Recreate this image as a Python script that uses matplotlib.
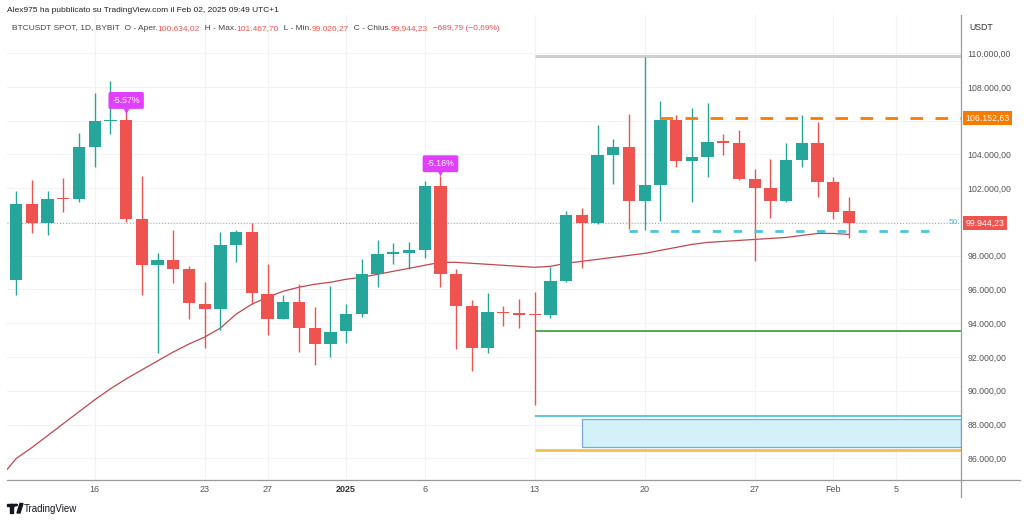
import matplotlib
matplotlib.use('Agg')
import numpy as np
import pandas as pd
import matplotlib.pyplot as plt
import matplotlib.dates as mdates
import matplotlib.transforms as mtrans
from matplotlib.lines import Line2D
from matplotlib.patches import Rectangle, Polygon, Circle

plt.rcParams['font.family'] = ['Liberation Sans', 'DejaVu Sans']

# daily candles BTCUSDT, 11 Dec 2024 -> 2 Feb 2025
dates = pd.date_range('2024-12-11', '2025-02-02', freq='D')
opens = [96548, 101091, 99929, 101420, 101370, 104414, 105990, 106030, 100150, 97433,
         97730, 97240, 95130, 94840, 98613, 99400, 95720, 94247, 95230, 93700,
         92752, 93520, 94540, 96943, 98120, 98190, 98320, 102153, 96900, 95014,
         92517, 94680, 94580, 94530, 94500, 96507, 100440, 99930, 103982, 104470,
         101268, 102194, 106047, 103628, 103820, 104770, 104670, 102548, 101990, 101268,
         103669, 104650, 102348, 100634.02]
highs = [101858, 102490, 101858, 102600, 105300, 107660, 108350, 106500, 102743, 98180,
         99500, 97370, 96450, 99400, 99540, 99930, 97530, 95660, 96350, 94937,
         96200, 95130, 97830, 98950, 98750, 98800, 102450, 102740, 97240, 95370,
         95800, 95014, 95410, 95860, 97330, 100640, 100813, 105750, 104910, 106383,
         109760, 107170, 106340, 106770, 107030, 105200, 105440, 103138, 103728, 104708,
         106340, 105947, 102684, 101467.70]
lows = [95663, 99321, 99200, 100580, 101170, 103270, 105240, 99990, 95663, 92260,
        96410, 94230, 92520, 93600, 97630, 95170, 93300, 94230, 92320, 91533,
        92020, 92850, 94350, 96120, 97530, 97240, 97890, 96120, 92477, 91180,
        92220, 93834, 93700, 89170, 94300, 96470, 97300, 99900, 102253, 99600,
        99540, 100050, 103274, 101210, 102684, 103980, 102490, 97687, 100247, 101200,
        103233, 101463, 100188, 99026.27]
closes = [101091, 99929, 101370, 101380, 104414, 105988, 106050, 100188, 97433, 97730,
          97240, 95173, 94840, 98613, 99400, 95763, 94247, 95230, 93734, 92752,
          93500, 94573, 96943, 98120, 98230, 98320, 102153, 96943, 95014, 92517,
          94680, 94580, 94480, 94500, 96507, 100442, 99930, 103982, 104470, 101268,
          102194, 106047, 103628, 103820, 104749, 104670, 102548, 102017, 101268, 103669,
          104650, 102348, 100577, 99944.23]

# 50-day moving average, from 10 Dec 2024
ma_dates = pd.date_range('2024-12-10', '2025-02-02', freq='D')
ma50 = [84866, 85987, 86636, 87344, 88052, 88760, 89468, 90117, 90707, 91238,
        91769, 92300, 92772, 93185, 93716, 94542, 95132, 95545, 95899, 96135,
        96312, 96430, 96607, 96725, 96902, 97079, 97256, 97433, 97610, 97610,
        97551, 97492, 97433, 97374, 97315, 97374, 97551, 97669, 97787, 97905,
        98023, 98141, 98318, 98495, 98672, 98790, 98849, 98908, 98967, 99026,
        99085, 99203, 99321, 99321, 99262]

# drawn levels
level_top = 109830
level_orange = 106152.63
level_cyan_dash = 99457
level_green = 93539
level_cyan = 88524
zone_low, zone_high = 86658, 88330
level_yellow = 86518

pct_labels = [('2024-12-18', 107200, 106580, '-5.57%'),
              ('2025-01-07', 103450, 102900, '-5.16%')]

tick_dates = ['2024-12-16', '2024-12-23', '2024-12-27', '2025-01-01', '2025-01-06',
              '2025-01-13', '2025-01-20', '2025-01-27', '2025-02-01', '2025-02-05']
tick_labels = ['16', '23', '27', '2025', '6', '13', '20', '27', 'Feb', '5']

GREEN = '#26a69a'
RED = '#ef5350'
W, H = 1024, 521


def it_num(v):
    return f"{v:,.2f}".replace(',', 'X').replace('.', ',').replace('X', '.')


fig = plt.figure(figsize=(W / 100, H / 100), dpi=100)
fig.patch.set_facecolor('white')
ax = fig.add_axes([7 / W, 41 / H, (961 - 7) / W, (480 - 15) / H])

xd = mdates.date2num(dates)
for x, o, h, l, c in zip(xd, opens, highs, lows, closes):
    col = GREEN if c >= o else RED
    ax.vlines(x, l, h, color=col, lw=1, zorder=3)
    ax.bar(x, max(abs(c - o), 70), bottom=min(o, c), width=0.78, color=col,
           zorder=4, linewidth=0)

ax.plot(mdates.date2num(ma_dates), ma50, color='#c0474f', lw=0.9, zorder=2)

x_end = mdates.date2num(pd.Timestamp('2025-02-09 03:00'))
x_j13 = mdates.date2num(pd.Timestamp('2025-01-13'))
ax.hlines(level_top, x_j13, x_end, color='#cfcfcf', lw=2.2, zorder=2)
ax.hlines(level_orange, mdates.date2num(pd.Timestamp('2025-01-21')), x_end,
          color='#f57c00', lw=2, linestyles=(0, (4.5, 4.5)), zorder=5)
ax.hlines(level_cyan_dash, mdates.date2num(pd.Timestamp('2025-01-19')),
          mdates.date2num(pd.Timestamp('2025-02-07 14:00')),
          color='#4fc3dd', lw=2, linestyles=(0, (3, 4.5)), zorder=5)
ax.hlines(level_green, x_j13, x_end, color='#43a047', lw=1.3, zorder=2)
ax.hlines(level_cyan, x_j13, x_end, color='#4fc3dd', lw=1.3, zorder=2)
x_j16 = mdates.date2num(pd.Timestamp('2025-01-16'))
ax.add_patch(Rectangle((x_j16, zone_low), x_end - x_j16, zone_high - zone_low,
                       facecolor='#d2f1f8', edgecolor='#7ea6e0', lw=0.9, zorder=1))
ax.hlines(level_yellow, x_j13, x_end, color='#f2c14e', lw=2, zorder=2)

ax.axhline(closes[-1], color=RED, lw=0.7, ls=(0, (1, 2)), alpha=0.7, zorder=1)

for d, ybox, yptr, txt in pct_labels:
    xx = mdates.date2num(pd.Timestamp(d))
    ax.plot(xx, yptr, marker='v', ms=5, color='#e040fb', zorder=6, mec='none')
    ax.text(xx, ybox, txt, color='white', fontsize=6.3, ha='center', va='center',
            zorder=7, bbox=dict(boxstyle='round,pad=0.45,rounding_size=0.2',
                                fc='#e040fb', ec='none'))

ax.set_xlim(mdates.date2num(pd.Timestamp('2024-12-10 10:00')), x_end)
ax.set_ylim(84714, 112262)

# axes styling
for s in ax.spines.values():
    s.set_visible(False)
ax.set_xticks(mdates.date2num(pd.to_datetime(tick_dates)))
ax.set_xticklabels(tick_labels)
for lab in ax.get_xticklabels():
    lab.set_color('#555555')
    if lab.get_text() == '2025':
        lab.set_fontweight('bold')
        lab.set_color('#333333')
ax.tick_params(axis='x', length=0, pad=3.5, labelsize=6.5)

ax.set_yticks(list(range(86000, 110001, 2000)))
def fmt(v, pos):
    if abs(v - level_orange) < 900 or abs(v - closes[-1]) < 900:
        return ''
    return it_num(v)
ax.yaxis.set_major_formatter(plt.FuncFormatter(fmt))
ax.yaxis.tick_right()
ax.tick_params(axis='y', length=0, pad=4.5, labelsize=6.3, labelcolor='#555555')
ax.grid(True, color='#f1f3f7', lw=0.8, zorder=0)
ax.set_axisbelow(True)

blend = mtrans.blended_transform_factory(ax.transAxes, ax.transData)
for lvl, col in [(level_orange, '#f57c00'), (closes[-1], RED)]:
    ax.annotate(it_num(lvl), xy=(1, lvl), xycoords=blend, xytext=(3, 0),
                textcoords='offset points', ha='left', va='center', color='white',
                fontsize=6.3, zorder=8, annotation_clip=False,
                bbox=dict(boxstyle='square,pad=0.3', fc=col, ec='none'))
ax.annotate('50', xy=(1, closes[-1]), xycoords=blend, xytext=(-2, 0),
            textcoords='offset points', ha='right', va='center', color='#5ab4e6',
            fontsize=6, annotation_clip=False)

# frame lines of the price/time scales
fig.add_artist(Line2D([961 / W, 961 / W], [1 - 497 / H, 1 - 15 / H], color='#9a9a9a', lw=0.9))
fig.add_artist(Line2D([7 / W, 1020 / W], [1 - 480 / H, 1 - 480 / H], color='#9a9a9a', lw=0.9))
fig.text(969 / W, 1 - 28 / H, 'USDT', fontsize=6.3, color='#333333', va='center')

# header
fig.text(7 / W, 1 - 10.5 / H, 'Alex975 ha pubblicato su TradingView.com il Feb 02, 2025 09:49 UTC+1',
         fontsize=6.0, color='#222222', va='center')
segments = [('BTCUSDT SPOT, 1D, BYBIT  O - Aper.', '#444444'), ('100.634,02', RED),
            ('  H - Max.', '#444444'), ('101.467,70', RED),
            ('  L - Min.', '#444444'), ('99.026,27', RED),
            ('  C - Chius.', '#444444'), ('99.944,23', RED),
            ('  \u2212689,79 (\u22120,69%)', RED)]
anchor = fig.text(12 / W, 1 - 29 / H, segments[0][0], fontsize=6.0,
                  color=segments[0][1], va='center')
for txt, col in segments[1:]:
    anchor = fig.add_artist(plt.Annotation(txt, xy=(1, 0.5), xycoords=anchor,
                                           va='center', ha='left', fontsize=6.0, color=col))

# TradingView mark
fig.add_artist(Rectangle((7 / W, 1 - 506 / H), 7 / W, 2.5 / H, transform=fig.transFigure, color='#131722'))
fig.add_artist(Rectangle((10 / W, 1 - 513 / H), 3 / W, 9 / H, transform=fig.transFigure, color='#131722'))
fig.add_artist(Circle((16 / W, 1 - 505 / H), 1.4 / W, transform=fig.transFigure, color='#131722'))
fig.add_artist(Polygon([(17 / W, 1 - 513 / H), (20 / W, 1 - 513 / H), (23 / W, 1 - 503.5 / H),
                        (20 / W, 1 - 503.5 / H)], closed=True, transform=fig.transFigure, color='#131722'))
fig.text(24 / W, 1 - 508.5 / H, 'TradingView', fontsize=7, color='#131722', va='center')

fig.savefig('out.png', dpi=100)
